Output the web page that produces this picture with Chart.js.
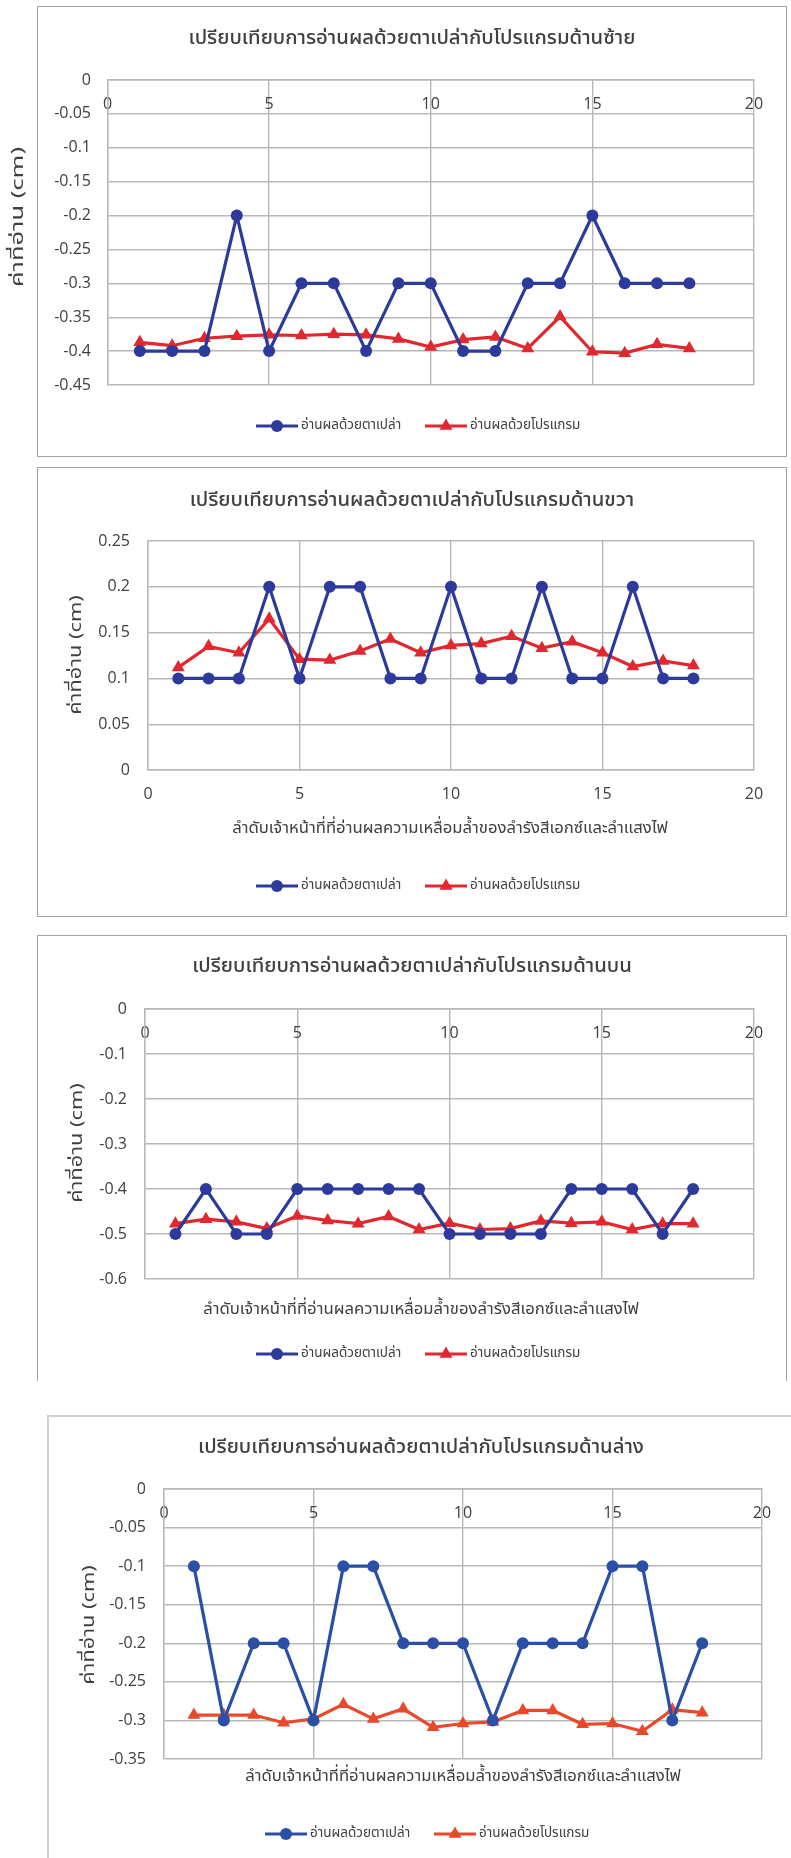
<!DOCTYPE html>
<html><head><meta charset="utf-8">
<script src="https://cdn.jsdelivr.net/npm/chart.js@4/dist/chart.umd.min.js"></script>
<style>
html,body{margin:0;padding:0;background:#fff;}
body{width:791px;height:1858px;position:relative;overflow:hidden;}
.box{position:absolute;box-sizing:border-box;border:1px solid #a3a3a3;}
canvas{position:absolute;left:0;}
</style></head><body>
<div class="box" style="left:37px;top:6px;width:750px;height:451px"></div>
<div class="box" style="left:37px;top:467px;width:750px;height:450px"></div>
<div class="box" style="left:37px;top:935px;width:750px;height:446px;border-bottom:none"></div>
<div class="box" style="left:47px;top:1415px;width:760px;height:460px;border:2px solid #d2d2d2;border-right:none;border-bottom:none"></div>
<canvas id="c1" width="791" height="460" style="top:0px"></canvas>
<canvas id="c2" width="791" height="460" style="top:460px"></canvas>
<canvas id="c3" width="791" height="460" style="top:920px"></canvas>
<canvas id="c4" width="791" height="478" style="top:1380px"></canvas>
<script>
// ---------- data ----------
const officers = [1,2,3,4,5,6,7,8,9,10,11,12,13,14,15,16,17,18];
const leftEye = [-0.4,-0.4,-0.4,-0.2,-0.4,-0.3,-0.3,-0.4,-0.3,-0.3,-0.4,-0.4,-0.3,-0.3,-0.2,-0.3,-0.3,-0.3];
const leftProgram = [-0.387,-0.392,-0.381,-0.378,-0.376,-0.377,-0.375,-0.376,-0.382,-0.394,-0.383,-0.379,-0.396,-0.349,-0.401,-0.403,-0.390,-0.396];
const rightEye = [0.1,0.1,0.1,0.2,0.1,0.2,0.2,0.1,0.1,0.2,0.1,0.1,0.2,0.1,0.1,0.2,0.1,0.1];
const rightProgram = [0.112,0.135,0.128,0.165,0.121,0.120,0.130,0.143,0.128,0.136,0.138,0.146,0.133,0.140,0.128,0.113,0.119,0.114];
const topEye = [-0.5,-0.4,-0.5,-0.5,-0.4,-0.4,-0.4,-0.4,-0.4,-0.5,-0.5,-0.5,-0.5,-0.4,-0.4,-0.4,-0.5,-0.4];
const topProgram = [-0.477,-0.467,-0.473,-0.488,-0.460,-0.470,-0.477,-0.461,-0.490,-0.476,-0.490,-0.488,-0.471,-0.476,-0.473,-0.490,-0.477,-0.477];
const bottomEye = [-0.1,-0.3,-0.2,-0.2,-0.3,-0.1,-0.1,-0.2,-0.2,-0.2,-0.3,-0.2,-0.2,-0.2,-0.1,-0.1,-0.3,-0.2];
const bottomProgram = [-0.293,-0.293,-0.293,-0.303,-0.298,-0.279,-0.298,-0.285,-0.309,-0.304,-0.302,-0.287,-0.287,-0.305,-0.304,-0.314,-0.286,-0.290];

const xTickLabels = ['0','5','10','15','20'];
const leftTickLabels = ['0','-0.05','-0.1','-0.15','-0.2','-0.25','-0.3','-0.35','-0.4','-0.45'];
const rightTickLabels = ['0','0.05','0.1','0.15','0.2','0.25'];
const topTickLabels = ['0','-0.1','-0.2','-0.3','-0.4','-0.5','-0.6'];
const bottomTickLabels = ['0','-0.05','-0.1','-0.15','-0.2','-0.25','-0.3','-0.35'];

const chartTitles = [
  'เปรียบเทียบการอ่านผลด้วยตาเปล่ากับโปรแกรมด้านซ้าย',
  'เปรียบเทียบการอ่านผลด้วยตาเปล่ากับโปรแกรมด้านขวา',
  'เปรียบเทียบการอ่านผลด้วยตาเปล่ากับโปรแกรมด้านบน',
  'เปรียบเทียบการอ่านผลด้วยตาเปล่ากับโปรแกรมด้านล่าง'
];
const yAxisTitle = 'ค่าที่อ่าน (cm)';
const xAxisTitle = 'ลำดับเจ้าหน้าที่ที่อ่านผลความเหลื่อมล้ำของลำรังสีเอกซ์และลำแสงไฟ';
const seriesNames = ['อ่านผลด้วยตาเปล่า','อ่านผลด้วยโปรแกรม'];

// ---------- rendering ----------
const THAI = "'Noto Sans Thai','Leelawadee UI',Tahoma,'Noto Sans',sans-serif";
const TICKFONT = "'Open Sans','Noto Sans',sans-serif";
const TXT = '#404040';

const annot = {
  id: 'annot',
  afterDraw(chart, args, o) {
    const ctx = chart.ctx;
    ctx.save();
    ctx.fillStyle = TXT;
    ctx.textBaseline = 'middle';
    for (const t of o.texts) {
      ctx.save();
      ctx.font = t.font;
      ctx.translate(t.x, t.y);
      if (t.rot) ctx.rotate(t.rot);
      if (t.sx) ctx.scale(t.sx, 1);
      ctx.textAlign = 'center';
      ctx.fillText(t.text, 0, 0);
      ctx.restore();
    }
    // legend
    o.legend.forEach((it, i) => {
      const ds = chart.data.datasets[i];
      ctx.strokeStyle = ds.borderColor;
      ctx.lineWidth = 3;
      ctx.beginPath();
      ctx.moveTo(it.x1, o.legendY);
      ctx.lineTo(it.x2, o.legendY);
      ctx.stroke();
      ctx.fillStyle = ds.backgroundColor;
      Chart.helpers.drawPoint(ctx, {pointStyle: ds.pointStyle, radius: ds.pointRadius, rotation: 0, borderWidth: 0}, (it.x1 + it.x2) / 2, o.legendY);
      ctx.fillStyle = TXT;
      ctx.font = '13.5px ' + THAI;
      ctx.textAlign = 'left';
      ctx.fillText(ds.label, it.x2 + 3, o.legendY);
    });
    ctx.restore();
  }
};

function labelFrom(arr) {
  return (v) => {
    for (const s of arr) if (Math.abs(Number(s) - v) < 1e-9) return s;
    return '';
  };
}

function makeChart(id, cfg) {
  const pts = (ys) => officers.map((x, i) => ({x, y: ys[i]}));
  new Chart(document.getElementById(id), {
    type: 'line',
    data: {
      datasets: [
        {label: seriesNames[0], data: pts(cfg.eye), borderColor: cfg.blue, backgroundColor: cfg.blue,
         borderWidth: 3.2, pointStyle: 'circle', pointRadius: 6, pointBorderWidth: 0, tension: 0},
        {label: seriesNames[1], data: pts(cfg.prog), borderColor: cfg.red, backgroundColor: cfg.red,
         borderWidth: 3.2, pointStyle: 'triangle', pointRadius: 7.5, pointBorderWidth: 0, tension: 0}
      ]
    },
    options: {
      responsive: false, animation: false, devicePixelRatio: 1,
      layout: {padding: {left: 0, top: cfg.pad.top, right: cfg.pad.right, bottom: cfg.pad.bottom}},
      plugins: {legend: {display: false}, tooltip: {enabled: false}, title: {display: false},
        annot: {texts: cfg.texts, legend: cfg.legend, legendY: cfg.legendY}},
      scales: {
        x: {type: 'linear', position: {y: 0}, min: 0, max: 20,
          afterFit: (s) => { s.height = 0; },
          grid: {color: '#b8b8b8', lineWidth: 1.4, drawTicks: false},
          border: {color: '#b8b8b8', width: 1.4},
          ticks: {stepSize: 5, padding: 15, color: TXT, font: {family: TICKFONT, size: 16},
            callback: labelFrom(xTickLabels), maxRotation: 0, autoSkip: false}},
        y: {type: 'linear', position: 'left', min: cfg.ymin, max: cfg.ymax,
          afterFit: (s) => { s.width = cfg.yw; },
          grid: {color: '#b8b8b8', lineWidth: 1.4, drawTicks: false},
          border: {color: '#b8b8b8', width: 1.4},
          ticks: {stepSize: cfg.step, padding: cfg.ypad, color: TXT, font: {family: TICKFONT, size: 16},
            callback: labelFrom(cfg.ticks), autoSkip: false}}
      }
    },
    plugins: [annot]
  });
}

const titleFont = '500 20.3px ' + THAI;
const axFont = '16.7px ' + THAI;
const yFont = '17px ' + THAI;
const blueA = '#2c3b9b', redA = '#e0282e';
const legA = [{x1: 256, x2: 298}, {x1: 425, x2: 467}];

makeChart('c1', {eye: leftEye, prog: leftProgram, blue: blueA, red: redA,
  ymin: -0.45, ymax: 0, step: 0.05, ticks: leftTickLabels, yw: 107.5, ypad: 16.5,
  pad: {top: 80, right: 37, bottom: 75},
  texts: [{text: chartTitles[0], x: 412, y: 40, font: titleFont},
          {text: yAxisTitle, x: 20, y: 217, font: yFont, rot: -Math.PI / 2, sx: 1.5}],
  legend: legA, legendY: 426});

makeChart('c2', {eye: rightEye, prog: rightProgram, blue: blueA, red: redA,
  ymin: 0, ymax: 0.25, step: 0.05, ticks: rightTickLabels, yw: 148, ypad: 18,
  pad: {top: 81, right: 37, bottom: 150},
  texts: [{text: chartTitles[1], x: 412, y: 42, font: titleFont},
          {text: xAxisTitle, x: 450, y: 370, font: axFont},
          {text: yAxisTitle, x: 78, y: 195, font: yFont, rot: -Math.PI / 2, sx: 1.28}],
  legend: legA, legendY: 426});

makeChart('c3', {eye: topEye, prog: topProgram, blue: blueA, red: redA,
  ymin: -0.6, ymax: 0, step: 0.1, ticks: topTickLabels, yw: 145, ypad: 18,
  pad: {top: 89, right: 37, bottom: 101},
  texts: [{text: chartTitles[2], x: 412, y: 48, font: titleFont},
          {text: xAxisTitle, x: 421, y: 391, font: axFont},
          {text: yAxisTitle, x: 79, y: 223, font: yFont, rot: -Math.PI / 2, sx: 1.28}],
  legend: legA, legendY: 434});

makeChart('c4', {eye: bottomEye, prog: bottomProgram, blue: '#2a4fa6', red: '#e9492b',
  ymin: -0.35, ymax: 0, step: 0.05, ticks: bottomTickLabels, yw: 164, ypad: 18,
  pad: {top: 109, right: 29, bottom: 99},
  texts: [{text: chartTitles[3], x: 421, y: 69, font: titleFont},
          {text: xAxisTitle, x: 463, y: 398, font: axFont},
          {text: yAxisTitle, x: 91, y: 245, font: yFont, rot: -Math.PI / 2, sx: 1.28}],
  legend: [{x1: 265, x2: 307}, {x1: 434, x2: 476}], legendY: 454});
</script>
</body></html>
